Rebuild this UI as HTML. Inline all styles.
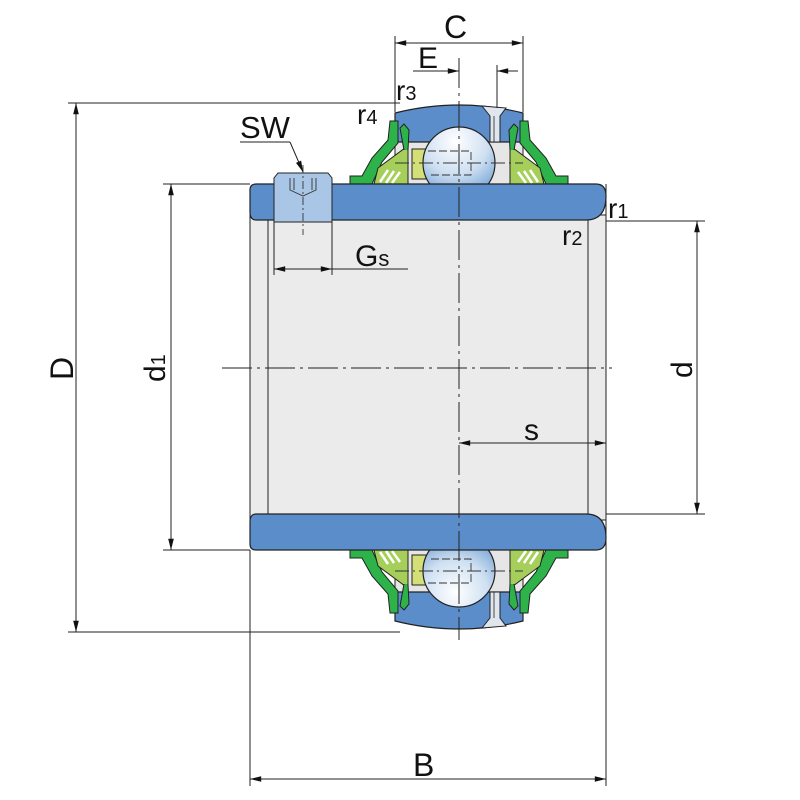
<!DOCTYPE html>
<html><head><meta charset="utf-8"><style>
html,body{margin:0;padding:0;background:#fff;}
svg{display:block;}
text{font-family:"Liberation Sans","DejaVu Sans",sans-serif;fill:#111;}
</style></head><body>
<svg width="800" height="800" viewBox="0 0 800 800" xmlns="http://www.w3.org/2000/svg">
<defs>
<radialGradient id="ball" cx="0.45" cy="0.2" r="0.9">
<stop offset="0" stop-color="#ffffff"/><stop offset="0.5" stop-color="#cfe0f2"/><stop offset="1" stop-color="#5d93cc"/>
</radialGradient>
<marker id="ar" viewBox="0 0 14 10" refX="14" refY="5" markerWidth="14" markerHeight="8" orient="auto-start-reverse" markerUnits="userSpaceOnUse">
<path d="M0,1.5 L14,5 L0,8.5 Z" fill="#111"/>
</marker>
<g id="half">
  <rect x="395" y="140" width="128" height="45" fill="#e6e6e6" stroke="#222" stroke-width="1"/>
  <path d="M395,113 Q459,97 523,113 L523,142 L395,142 Z" fill="#5a8dc9" stroke="#222" stroke-width="1.2"/>
  <path d="M482,106 L506,108 L500,116 L500,142 L490,142 L490,116 Z" fill="#dfe6ee" stroke="#222" stroke-width="1"/>
  <line x1="494" y1="116" x2="494" y2="142" stroke="#222" stroke-width="0.8"/>
  <rect x="412" y="149" width="14" height="30" fill="#d4df78" stroke="#222" stroke-width="1"/>
  <path d="M350,184 L350,176 L362,176 L372,158 L388,140 L390,121 L398,121 L398,143 L382,162 L372,184 Z" fill="#2db34a" stroke="#222" stroke-width="1"/>
  <path d="M374,184 L378,168 L405,148 L408,150 L408,184 Z" fill="#a5cf5a" stroke="#222" stroke-width="1"/>
  <path d="M380,182 L388,170 M386,183 L394,171 M392,183 L400,172" stroke="#fff" stroke-width="2.5"/>
  <path d="M404,150 L400,128 L404,124 L409,130 L408,150" fill="#2db34a" stroke="#222" stroke-width="1"/>
  <g transform="translate(918,0) scale(-1,1)">
  <path d="M350,184 L350,176 L362,176 L372,158 L388,140 L390,121 L398,121 L398,143 L382,162 L372,184 Z" fill="#2db34a" stroke="#222" stroke-width="1"/>
  <path d="M374,184 L378,168 L405,148 L408,150 L408,184 Z" fill="#a5cf5a" stroke="#222" stroke-width="1"/>
  <path d="M380,182 L388,170 M386,183 L394,171 M392,183 L400,172" stroke="#fff" stroke-width="2.5"/>
  <path d="M404,150 L400,128 L404,124 L409,130 L408,150" fill="#2db34a" stroke="#222" stroke-width="1"/>
  </g>
  <circle cx="459" cy="163" r="36" fill="url(#ball)" stroke="#222" stroke-width="1.2"/>
  <path d="M428,151 H471 V175 H428" fill="none" stroke="#333" stroke-width="0.9" stroke-dasharray="8,3"/>
  <line x1="395" y1="163" x2="523" y2="163" stroke="#333" stroke-width="0.9" stroke-dasharray="14,4,2,4"/>
  <path d="M256,184 H596 Q606,184 606,196 Q606,220 586,220 H256 Q250,220 250,212 V190 Q250,184 256,184 Z" fill="#5a8dc9" stroke="#222" stroke-width="1.2"/>
</g>
</defs>

<rect x="250" y="215" width="356" height="305" fill="#ebebeb" stroke="#222" stroke-width="1"/>
<line x1="268" y1="220" x2="268" y2="515" stroke="#222" stroke-width="1"/>
<line x1="588" y1="220" x2="588" y2="515" stroke="#222" stroke-width="1"/>

<use href="#half"/>
<use href="#half" transform="translate(0,734) scale(1,-1)"/>

<path d="M278,173 H328 L332,178 V222 H274 V178 Z" fill="#a9c6e6" stroke="#222" stroke-width="1"/>
<path d="M290,178 V190 L303,196 L316,190 V178 M294,178 V190 M312,178 V190" fill="none" stroke="#333" stroke-width="0.9"/>
<line x1="303" y1="165" x2="303" y2="235" stroke="#333" stroke-width="0.9" stroke-dasharray="8,3,2,3"/>
<line x1="274" y1="222" x2="274" y2="275" stroke="#222" stroke-width="1"/>
<line x1="332" y1="222" x2="332" y2="275" stroke="#222" stroke-width="1"/>

<line x1="459" y1="58" x2="459" y2="640" stroke="#222" stroke-width="1" stroke-dasharray="30,5,3,5"/>
<line x1="222" y1="368" x2="612" y2="368" stroke="#222" stroke-width="1" stroke-dasharray="30,5,3,5"/>

<g stroke="#222" stroke-width="1" fill="none">
<line x1="68" y1="103" x2="400" y2="103"/>
<line x1="68" y1="632" x2="400" y2="632"/>
<line x1="76" y1="103" x2="76" y2="632" marker-start="url(#ar)" marker-end="url(#ar)"/>
<line x1="163" y1="184" x2="250" y2="184"/>
<line x1="163" y1="550" x2="250" y2="550"/>
<line x1="171" y1="184" x2="171" y2="550" marker-start="url(#ar)" marker-end="url(#ar)"/>
<line x1="606" y1="221" x2="705" y2="221"/>
<line x1="606" y1="514" x2="705" y2="514"/>
<line x1="697" y1="221" x2="697" y2="514" marker-start="url(#ar)" marker-end="url(#ar)"/>
<line x1="250" y1="550" x2="250" y2="786"/>
<line x1="606" y1="520" x2="606" y2="786"/>
<line x1="250" y1="779" x2="606" y2="779" marker-start="url(#ar)" marker-end="url(#ar)"/>
<line x1="459" y1="443" x2="606" y2="443" marker-start="url(#ar)" marker-end="url(#ar)"/>
<line x1="395" y1="36" x2="395" y2="112"/>
<line x1="523" y1="36" x2="523" y2="112"/>
<line x1="395" y1="43" x2="523" y2="43" marker-start="url(#ar)" marker-end="url(#ar)"/>
<line x1="497" y1="65" x2="497" y2="108"/>
<line x1="413" y1="71" x2="459" y2="71" marker-end="url(#ar)"/>
<line x1="518" y1="71" x2="497" y2="71" marker-end="url(#ar)"/>
<line x1="274" y1="269" x2="332" y2="269" marker-start="url(#ar)" marker-end="url(#ar)"/>
<line x1="332" y1="269" x2="408" y2="269"/>
<line x1="240" y1="142" x2="290" y2="142"/>
<line x1="290" y1="142" x2="303" y2="172" marker-end="url(#ar)"/>
<line x1="606" y1="221" x2="606" y2="184"/>
</g>

<text x="444" y="38" font-size="32">C</text>
<text x="418" y="68" font-size="30">E</text>
<text x="396" y="100" font-size="28">r<tspan font-size="20">3</tspan></text>
<text x="357" y="124" font-size="28">r<tspan font-size="20">4</tspan></text>
<text x="240" y="138" font-size="31">SW</text>
<text x="608" y="218" font-size="28">r<tspan font-size="20">1</tspan></text>
<text x="562" y="245" font-size="28">r<tspan font-size="20">2</tspan></text>
<text x="355" y="266" font-size="30">G<tspan font-size="22">s</tspan></text>
<text x="524" y="440" font-size="30">s</text>
<text x="413" y="776" font-size="32">B</text>
<text transform="translate(73,380) rotate(-90)" font-size="32">D</text>
<text transform="translate(165,382) rotate(-90)" font-size="30">d<tspan font-size="20">1</tspan></text>
<text transform="translate(692,378) rotate(-90)" font-size="30">d</text>
</svg>
</body></html>
